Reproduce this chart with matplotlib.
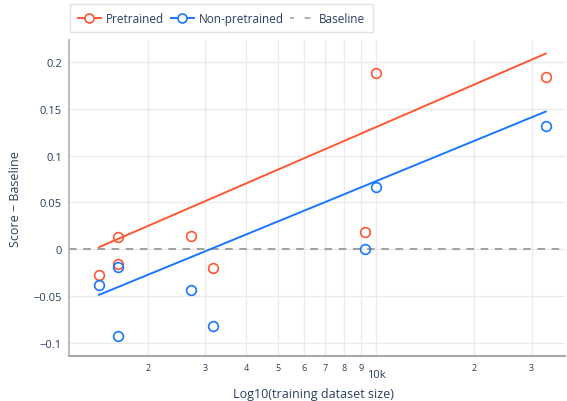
import matplotlib.pyplot as plt
from matplotlib.ticker import FixedLocator, FixedFormatter

# values
sizes = [1415, 1618, 1618, 2710, 3162, 9253, 10000, 33160]
pretrained = [-0.028, 0.013, -0.016, 0.014, -0.020, 0.018, 0.188, 0.184]
non_pretrained = [-0.038, -0.019, -0.093, -0.044, -0.082, 0.0, 0.066, 0.132]

# trend line end points (at smallest and largest size)
fit_x = [1415, 33160]
pretrained_fit = [0.002, 0.209]
non_pretrained_fit = [-0.049, 0.147]

y_ticks = [-0.1, -0.05, 0, 0.05, 0.1, 0.15, 0.2]
y_labels = ['−0.1', '−0.05', '0', '0.05', '0.1', '0.15', '0.2']
minor_x = [2000, 3000, 4000, 5000, 6000, 7000, 8000, 9000, 20000, 30000]
minor_labels = ['2', '3', '4', '5', '6', '7', '8', '9', '2', '3']

ORANGE = '#FF5733'
BLUE = '#1A76FF'
TXT = '#2a3f5f'
GRID = '#ebebeb'

plt.rcParams['font.family'] = ['Open Sans', 'DejaVu Sans']

fig = plt.figure(figsize=(5.67, 4.02), dpi=100)
ax = fig.add_axes([0.1217, 0.1119, 0.9965 - 0.1217, 0.898 - 0.1119])

ax.axhline(0, color='#a0a0a0', lw=1.4, ls=(0, (3.9, 3.4)), zorder=2)

ax.plot(fit_x, pretrained_fit, color=ORANGE, lw=1.4, zorder=3)
ax.plot(fit_x, non_pretrained_fit, color=BLUE, lw=1.4, zorder=3)
ax.plot(sizes, pretrained, 'o', ms=7, mfc='none', mec=ORANGE, mew=1.2, zorder=4)
ax.plot(sizes, non_pretrained, 'o', ms=7, mfc='none', mec=BLUE, mew=1.2, zorder=4)

ax.set_xscale('log')
ax.set_xlim(10 ** 3.0587, 10 ** 4.5798)
ax.set_ylim(-0.1144, 0.2235)

ax.xaxis.set_major_locator(FixedLocator([10000]))
ax.xaxis.set_major_formatter(FixedFormatter(['10k']))
ax.xaxis.set_minor_locator(FixedLocator(minor_x))
ax.xaxis.set_minor_formatter(FixedFormatter(minor_labels))
ax.tick_params(axis='x', which='major', length=0, pad=9, labelsize=8, labelcolor=TXT)
ax.tick_params(axis='x', which='minor', length=0, pad=5, labelsize=6.5, labelcolor=TXT)

ax.set_yticks(y_ticks)
ax.set_yticklabels(y_labels)
ax.tick_params(axis='y', length=0, pad=5, labelsize=8, labelcolor=TXT)

ax.grid(True, which='both', color=GRID, lw=1, zorder=0)
ax.set_axisbelow(True)

for side in ['top', 'right']:
    ax.spines[side].set_visible(False)
ax.spines['left'].set_color('#a8a8a8')
ax.spines['left'].set_linewidth(1.1)
ax.spines['bottom'].set_color('#a8a8a8')
ax.spines['bottom'].set_linewidth(1.5)

fig.text(0.552, 1 - 395 / 402, 'Log10(training dataset size)', fontsize=9,
         color=TXT, ha='center', va='center')
ax.set_ylabel('Score − Baseline', fontsize=9, color=TXT, labelpad=8)

# legend handles
h1, = ax.plot([], [], '-o', color=ORANGE, ms=6.5, mfc='white', mec=ORANGE, mew=1.2, lw=1.4)
h2, = ax.plot([], [], '-o', color=BLUE, ms=6.5, mfc='white', mec=BLUE, mew=1.2, lw=1.4)
h3, = ax.plot([], [], color='#b0b0b0', lw=1.4, ls=(1, (3, 5.5)))
leg = fig.legend([h1, h2, h3], ['Pretrained', 'Non-pretrained', 'Baseline'],
                 loc='upper left', bbox_to_anchor=(70 / 567, 1 - 5 / 402), ncol=3,
                 fontsize=8.5, frameon=True, fancybox=False, handlelength=2.0,
                 handletextpad=0.4, columnspacing=0.55, borderpad=0.65,
                 borderaxespad=0, labelcolor=TXT)
leg.get_frame().set_edgecolor('#dddddd')
leg.get_frame().set_linewidth(1)

fig.savefig('out.png', dpi=100)
